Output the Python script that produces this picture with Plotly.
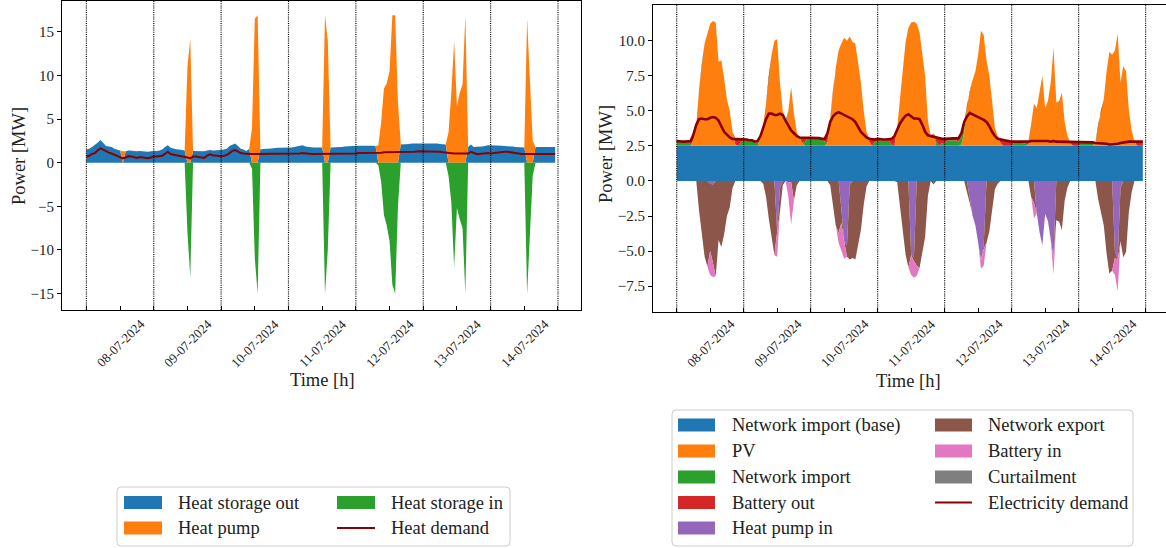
import pandas as pd
import plotly.graph_objects as go

W, H = 1166, 548
START = "2024-07-08 00:00"
N_DAYS = 7
DATE_LABELS = ["08-07-2024", "09-07-2024", "10-07-2024", "11-07-2024",
               "12-07-2024", "13-07-2024", "14-07-2024"]

# ---------------- Heat balance (left) : per day, hourly values [MW] ----------------
heat_storage_out = [
    [1.5, 1.6, 1.8, 2.0, 2.3, 2.6, 2.3, 1.9, 1.85, 1.8, 1.6, 1.5, 1.4, 0.0, 1.3, 1.4, 1.35, 1.3, 1.3, 1.35, 1.3, 1.3, 1.25, 1.3],
    [1.3, 1.35, 1.4, 1.5, 1.8, 2.0, 1.7, 1.6, 1.55, 1.5, 1.45, 1.4, 0.0, 0.0, 1.35, 1.35, 1.3, 1.3, 1.3, 1.4, 1.45, 1.4, 1.4, 1.4],
    [1.45, 1.5, 1.6, 1.9, 2.1, 2.2, 1.9, 1.6, 1.5, 1.35, 1.6, 0.0, 0.0, 0.0, 1.55, 1.6, 1.6, 1.6, 1.65, 1.65, 1.7, 1.7, 1.7, 1.75],
    [1.75, 1.75, 1.8, 1.85, 1.95, 2.0, 1.85, 1.8, 1.75, 1.75, 1.75, 1.75, 1.75, 0.0, 0.0, 1.75, 1.75, 1.8, 1.8, 1.8, 1.85, 1.85, 1.9, 1.9],
    [1.95, 1.95, 1.95, 1.95, 2.0, 2.0, 1.95, 1.9, 0.0, 0.0, 0.0, 0.0, 0.0, 0.0, 0.0, 0.0, 2.1, 2.1, 2.15, 2.15, 2.2, 2.2, 2.2, 2.2],
    [2.2, 2.25, 2.25, 2.2, 2.2, 2.2, 2.15, 2.1, 2.1, 0.0, 0.0, 0.0, 0.0, 0.0, 0.0, 0.0, 1.8, 2.1, 1.8, 1.8, 1.8, 1.85, 1.9, 2.0],
    [2.0, 2.0, 2.0, 1.95, 1.95, 1.9, 1.9, 1.85, 1.85, 1.8, 1.8, 1.75, 1.75, 0.0, 0.0, 0.0, 1.8, 1.8, 1.8, 1.8, 1.8, 1.8, 1.8, 1.8],
]
heat_pump = [  # {hour: value}, other hours 0
    {13: 1.3},
    {12: 11.0, 13: 14.2},
    {11: 4.0, 12: 16.5, 13: 16.9},
    {13: 16.9, 14: 14.0},
    {8: 2.0, 9: 4.6, 10: 8.5, 11: 9.1, 12: 10.5, 13: 16.9, 14: 16.9, 15: 7.0},
    {9: 3.5, 10: 8.0, 11: 14.0, 12: 6.5, 13: 8.0, 14: 9.0, 15: 16.9},
    {13: 16.5, 14: 9.0, 15: 2.5},
]
heat_storage_in = [
    {},
    {12: -8.0, 13: -13.1},
    {11: -0.7, 12: -11.0, 13: -15.0},
    {13: -15.1, 14: -10.0},
    {8: -0.3, 9: -2.2, 10: -6.0, 11: -7.2, 12: -9.0, 13: -14.0, 14: -15.0, 15: -5.0},
    {9: -1.5, 10: -4.5, 11: -12.0, 12: -5.2, 13: -6.5, 14: -7.5, 15: -15.0},
    {13: -15.1, 14: -7.5, 15: -1.5},
]
heat_demand = [
    [0.7, 0.8, 1.0, 1.1, 1.4, 1.65, 1.5, 1.3, 1.15, 1.05, 0.9, 0.75, 0.65, 0.5, 0.6, 0.75, 0.7, 0.6, 0.55, 0.65, 0.6, 0.55, 0.5, 0.6],
    [0.7, 0.7, 0.75, 0.8, 1.0, 1.25, 1.0, 0.9, 0.85, 0.8, 0.75, 0.7, 0.6, 0.5, 0.7, 0.7, 0.65, 0.6, 0.55, 0.8, 0.95, 0.85, 0.8, 0.8],
    [0.75, 0.8, 0.9, 1.1, 1.35, 1.45, 1.25, 1.1, 1.05, 1.0, 1.0, 1.0, 1.0, 1.0, 1.0, 1.0, 1.0, 1.0, 1.0, 1.0, 1.0, 1.0, 1.0, 1.0],
    [1.0, 1.0, 1.0, 1.0, 1.05, 1.1, 1.05, 1.0, 1.0, 1.0, 1.0, 1.0, 1.0, 1.0, 1.0, 1.0, 1.0, 1.0, 1.0, 1.0, 1.0, 1.0, 1.0, 1.0],
    [1.05, 1.1, 1.1, 1.1, 1.15, 1.15, 1.15, 1.15, 1.15, 1.15, 1.2, 1.2, 1.25, 1.25, 1.25, 1.25, 1.25, 1.25, 1.25, 1.25, 1.25, 1.25, 1.3, 1.3],
    [1.25, 1.25, 1.25, 1.25, 1.25, 1.25, 1.25, 1.2, 1.15, 1.1, 1.05, 1.05, 1.05, 1.05, 1.0, 1.0, 1.05, 1.25, 1.1, 1.0, 1.0, 1.05, 1.05, 1.1],
    [1.05, 1.1, 1.15, 1.2, 1.25, 1.25, 1.25, 1.2, 1.1, 1.05, 1.0, 1.0, 1.0, 1.0, 1.0, 1.0, 1.0, 1.0, 1.0, 1.0, 1.0, 1.0, 1.0, 1.0],
]

# ---------------- Electricity balance (right) ----------------
network_import_base = 2.5   # constant base import [MW]
pv = [
    {6: 0.4, 7: 1.5, 8: 4.0, 9: 5.8, 10: 7.3, 11: 8.0, 12: 8.7, 13: 8.9, 14: 8.8, 15: 6.0, 16: 6.1, 17: 4.8, 18: 3.3, 19: 2.5, 20: 1.0, 21: 0.1},
    {6: 0.6, 7: 1.5, 8: 3.0, 9: 5.0, 10: 6.5, 11: 7.5, 12: 7.6, 13: 4.5, 14: 2.5, 15: 1.5, 16: 2.5, 17: 4.2, 18: 2.3, 19: 1.0, 20: 0.6, 21: 0.2},
    {6: 0.2, 7: 2.0, 8: 4.0, 9: 5.5, 10: 6.8, 11: 7.3, 12: 7.7, 13: 7.5, 14: 7.8, 15: 7.4, 16: 7.3, 17: 5.9, 18: 4.5, 19: 2.5, 20: 1.0, 21: 0.3},
    {7: 1.3, 8: 3.3, 9: 5.4, 10: 7.4, 11: 8.4, 12: 8.8, 13: 8.85, 14: 8.7, 15: 8.1, 16: 6.7, 17: 5.0, 18: 1.8, 19: 0.5, 20: 0.9},
    {6: 0.1, 7: 1.0, 8: 2.9, 9: 3.9, 10: 4.7, 11: 5.3, 12: 6.5, 13: 8.2, 14: 7.9, 15: 6.1, 16: 5.0, 17: 3.1, 18: 1.3, 19: 0.7, 20: 0.2},
    {6: 0.1, 7: 1.5, 8: 3.0, 9: 2.7, 10: 4.0, 11: 5.0, 12: 2.7, 13: 3.2, 14: 4.5, 15: 7.0, 16: 3.1, 17: 3.2, 18: 3.8, 19: 1.7, 20: 0.7, 21: 0.2},
    {6: 0.2, 7: 1.5, 8: 2.5, 9: 3.3, 10: 5.3, 11: 6.7, 12: 6.5, 13: 6.8, 14: 8.0, 15: 4.5, 16: 5.7, 17: 5.3, 18: 2.5, 19: 1.1, 20: 0.3},
]
network_import = [
    {0: 0.3, 1: 0.3, 2: 0.3, 3: 0.3, 4: 0.25, 5: 0.1, 23: 0.25},
    {0: 0.4, 1: 0.45, 2: 0.4, 3: 0.4, 4: 0.3, 5: 0.2, 15: 0.3, 22: 0.3, 23: 0.55},
    {0: 0.55, 1: 0.6, 2: 0.6, 3: 0.55, 4: 0.45, 5: 0.3, 23: 0.3},
    {0: 0.3, 1: 0.4, 2: 0.4, 3: 0.4, 4: 0.35, 5: 0.1, 21: 0.3, 23: 0.2},
    {0: 0.2, 1: 0.4, 2: 0.4, 3: 0.4, 4: 0.4, 5: 0.3, 6: 0.6, 7: 0.7},
    {1: 0.25, 2: 0.25, 3: 0.25, 4: 0.2, 5: 0.15},
    {1: 0.2, 2: 0.25, 3: 0.2, 4: 0.2, 5: 0.15},
]
battery_out = [
    {0: 0.05, 4: 0.05, 5: 0.25, 6: 0.4, 21: 0.4, 22: 0.45, 23: 0.2},
    {0: 0.05, 5: 0.15, 6: 0.1, 21: 0.4, 22: 0.3, 23: 0.05},
    {0: 0.05, 4: 0.05, 5: 0.2, 6: 0.7, 21: 0.2, 22: 0.45, 23: 0.15},
    {0: 0.2, 1: 0.05, 2: 0.05, 3: 0.05, 4: 0.1, 5: 0.4, 6: 0.7, 19: 0.2, 21: 0.25, 22: 0.55, 23: 0.3},
    {0: 0.3, 1: 0.1, 2: 0.1, 3: 0.1, 4: 0.1, 5: 0.25, 6: 0.2, 20: 0.25, 21: 0.4, 22: 0.35, 23: 0.35},
    {0: 0.3, 1: 0.05, 2: 0.05, 3: 0.05, 4: 0.05, 5: 0.1, 6: 0.2, 21: 0.05, 22: 0.25, 23: 0.25},
    {0: 0.3, 1: 0.1, 2: 0.05, 3: 0.05, 4: 0.05, 5: 0.1, 21: 0.3, 22: 0.3, 23: 0.3},
]
heat_pump_in = [
    {12: -0.2, 13: -0.25},
    {12: -3.6, 13: -0.5},
    {11: -2.0, 12: -4.3, 13: -4.6, 14: -0.3},
    {12: -5.3, 13: -5.4},
    {9: -1.25, 10: -2.45, 11: -3.15, 12: -4.4, 13: -5.65, 14: -4.55},
    {9: -2.3, 10: -3.65, 11: -4.6, 12: -2.35, 13: -2.85, 14: -4.2, 15: -5.45},
    {13: -5.0, 14: -5.6, 15: -0.5},
]
network_export = [
    {8: -2.1, 9: -3.85, 10: -5.4, 11: -6.1, 12: -4.8, 13: -5.6, 14: -6.8, 15: -4.2, 16: -4.7, 17: -3.8, 18: -2.5, 19: -1.9, 20: -0.5},
    {7: -0.2, 8: -1.1, 9: -2.7, 10: -4.2, 11: -5.3, 13: -1.7, 14: -0.3, 16: -0.1, 17: -0.1, 18: -1.4, 19: -0.3},
    {7: -0.3, 8: -1.9, 9: -3.2, 10: -3.7, 11: -1.0, 13: -0.8, 14: -5.3, 15: -5.5, 16: -5.6, 17: -4.6, 18: -3.5, 19: -1.7, 20: -0.4},
    {7: -0.1, 8: -1.7, 9: -3.5, 10: -5.25, 11: -6.15, 13: -0.3, 14: -6.05, 15: -6.2, 16: -5.2, 17: -4.0, 18: -1.05, 20: -0.25},
    {8: -0.8, 9: -0.3, 14: -0.3, 15: -4.4, 16: -3.6, 17: -2.1, 18: -0.6, 19: -0.2},
    {7: -1.15, 8: -1.55, 16: -2.8, 17: -2.9, 18: -3.5, 19: -1.4, 20: -0.45},
    {7: -1.3, 8: -2.35, 9: -3.15, 10: -5.15, 11: -6.6, 12: -6.4, 13: -0.5, 15: -3.8, 16: -5.45, 17: -5.05, 18: -2.2, 19: -0.8},
]
battery_in = [
    {12: -1.7, 13: -1.0},
    {12: -1.8, 16: -1.0, 17: -3.0},
    {10: -0.7, 11: -2.0, 12: -1.25},
    {12: -1.4, 13: -1.2, 14: -0.7},
    {13: -0.6, 14: -1.2},
    {8: -1.1, 15: -1.2},
    {13: -1.2, 14: -2.25},
]
curtailment = [{}, {}, {}, {}, {}, {}, {}]
elec_demand = [
    [2.85, 2.8, 2.8, 2.8, 2.8, 2.85, 3.3, 4.0, 4.4, 4.45, 4.4, 4.4, 4.5, 4.55, 4.5, 4.3, 3.9, 3.5, 3.3, 3.1, 3.0, 3.0, 2.95, 2.95],
    [2.95, 2.95, 2.9, 2.9, 2.8, 2.85, 3.2, 3.8, 4.4, 4.8, 4.8, 4.7, 4.7, 4.8, 4.7, 4.3, 3.9, 3.6, 3.4, 3.2, 3.1, 3.1, 3.1, 3.1],
    [3.1, 3.1, 3.1, 3.05, 3.0, 3.0, 3.4, 4.2, 4.6, 4.8, 4.9, 4.8, 4.65, 4.6, 4.5, 4.4, 4.2, 3.8, 3.5, 3.3, 3.1, 3.0, 2.95, 2.95],
    [3.0, 2.95, 2.95, 2.95, 2.95, 3.0, 3.2, 3.7, 4.1, 4.4, 4.65, 4.75, 4.6, 4.45, 4.45, 4.4, 4.0, 3.5, 3.25, 3.2, 3.15, 3.05, 3.05, 3.0],
    [3.0, 3.0, 3.0, 3.0, 3.0, 3.05, 3.4, 4.2, 4.6, 4.85, 4.75, 4.65, 4.6, 4.45, 4.35, 4.2, 3.9, 3.5, 3.2, 3.0, 2.95, 2.9, 2.85, 2.85],
    [2.8, 2.8, 2.8, 2.8, 2.75, 2.75, 2.8, 2.85, 2.85, 2.9, 2.85, 2.9, 2.85, 2.85, 2.8, 2.85, 2.8, 2.8, 2.8, 2.8, 2.75, 2.75, 2.75, 2.75],
    [2.8, 2.8, 2.8, 2.75, 2.75, 2.75, 2.7, 2.7, 2.65, 2.65, 2.65, 2.6, 2.6, 2.6, 2.65, 2.7, 2.75, 2.75, 2.8, 2.8, 2.8, 2.8, 2.8, 2.8],
]


def expand(days):
    out = []
    for d in days:
        if isinstance(d, dict):
            out.extend(float(d.get(h, 0.0)) for h in range(24))
        else:
            vals = list(d)[:24]
            out.extend(vals + [vals[-1]] * (24 - len(vals)))
    return out


t0 = pd.Timestamp(START)
N = 24 * N_DAYS
times = pd.date_range(t0, periods=N, freq="h")


def at(hours):
    return (t0 + pd.Timedelta(hours=hours)).strftime("%Y-%m-%d %H:%M:%S")


C = dict(blue="#1f77b4", orange="#ff7f0e", green="#2ca02c", red="#d62728",
         purple="#9467bd", brown="#8c564b", pink="#e377c2", gray="#7f7f7f",
         demand="#8b0000")
FONT = "Liberation Serif"
TXT = "#222222"

fig = go.Figure()


def area(y, color, name, group, xa, ya):
    fig.add_trace(go.Scatter(x=times, y=y, name=name, stackgroup=group, mode="lines",
                             line=dict(width=0, color=color), fillcolor=color,
                             xaxis=xa, yaxis=ya, showlegend=False))


# left: heat
area(expand(heat_storage_out), C["blue"], "Heat storage out", "hpos", "x", "y")
area(expand(heat_pump), C["orange"], "Heat pump", "hpos", "x", "y")
area(expand(heat_storage_in), C["green"], "Heat storage in", "hneg", "x", "y")
fig.add_trace(go.Scatter(x=times, y=expand(heat_demand), name="Heat demand", mode="lines",
                         line=dict(color=C["demand"], width=2), xaxis="x", yaxis="y", showlegend=False))

# right: electricity
area([network_import_base] * N, C["blue"], "Network import (base)", "epos", "x2", "y2")
area(expand(pv), C["orange"], "PV", "epos", "x2", "y2")
area(expand(network_import), C["green"], "Network import", "epos", "x2", "y2")
area(expand(battery_out), C["red"], "Battery out", "epos", "x2", "y2")
area(expand(heat_pump_in), C["purple"], "Heat pump in", "eneg", "x2", "y2")
area(expand(network_export), C["brown"], "Network export", "eneg", "x2", "y2")
area(expand(battery_in), C["pink"], "Battery in", "eneg", "x2", "y2")
area(expand(curtailment), C["gray"], "Curtailment", "eneg", "x2", "y2")
fig.add_trace(go.Scatter(x=times, y=expand(elec_demand), name="Electricity demand", mode="lines",
                         line=dict(color=C["demand"], width=2.6), xaxis="x2", yaxis="y2", showlegend=False))


def px_x(px):
    return px / W


def px_y(py):
    return 1 - py / H


midnights = [at(24 * d) for d in range(N_DAYS + 1)]
noons = [at(24 * d + 12) for d in range(N_DAYS)]

axis_common = dict(showline=True, mirror=True, linecolor="black", linewidth=1,
                   showgrid=False, zeroline=False)
xcommon = dict(axis_common, type="date", tickvals=midnights + noons, ticks="inside",
               ticklen=4, tickcolor="black", showticklabels=False)
ycommon = dict(axis_common, ticks="outside", ticklen=4, tickcolor="black",
               tickfont=dict(family=FONT, size=15, color=TXT))

fig.update_layout(
    width=W, height=H, margin=dict(l=0, r=0, t=0, b=0),
    paper_bgcolor="white", plot_bgcolor="white", showlegend=False,
    font=dict(family=FONT, color=TXT),
    xaxis=dict(xcommon, domain=[px_x(62), px_x(581)], range=[at(-8.69), at(176.2)], anchor="y"),
    yaxis=dict(ycommon, domain=[px_y(310), 0.999], range=[-16.9, 18.6],
               tickvals=[-15, -10, -5, 0, 5, 10, 15], anchor="x"),
    xaxis2=dict(xcommon, domain=[px_x(653), 1.0], range=[at(-8.49), at(175.3)], anchor="y2"),
    yaxis2=dict(ycommon, domain=[px_y(312), px_y(5)], range=[-9.34, 12.54],
                tickvals=[-7.5, -5.0, -2.5, 0.0, 2.5, 5.0, 7.5, 10.0], tickformat=".1f", anchor="x2"),
)

shapes = []
annotations = []
for xa, ya in (("x", "y"), ("x2", "y2")):
    for m in midnights:
        shapes.append(dict(type="line", xref=xa, yref=f"{ya} domain", x0=m, x1=m, y0=0, y1=1,
                           line=dict(color="black", width=1.2, dash="1px,1.2px"), layer="above"))
    ylab = px_y(343)
    for lab, nx in zip(DATE_LABELS, noons):
        annotations.append(dict(text=lab, xref=xa, yref="paper", x=nx, y=ylab, showarrow=False,
                                textangle=-45, xanchor="center", yanchor="middle",
                                font=dict(family=FONT, size=13, color=TXT)))

# axis titles
for txt, x, y, ang in (("Power [MW]", 19, 156, -90), ("Power [MW]", 606, 154, -90),
                       ("Time [h]", 322, 380, 0), ("Time [h]", 908, 381, 0)):
    annotations.append(dict(text=txt, xref="paper", yref="paper", x=px_x(x), y=px_y(y),
                            showarrow=False, textangle=ang, xanchor="center", yanchor="middle",
                            font=dict(family=FONT, size=18.5, color=TXT)))


def rounded_box(x0, y0, x1, y1, r=4):
    X, Y = px_x, px_y
    path = (f"M {X(x0 + r)},{Y(y0)} L {X(x1 - r)},{Y(y0)} Q {X(x1)},{Y(y0)} {X(x1)},{Y(y0 + r)} "
            f"L {X(x1)},{Y(y1 - r)} Q {X(x1)},{Y(y1)} {X(x1 - r)},{Y(y1)} "
            f"L {X(x0 + r)},{Y(y1)} Q {X(x0)},{Y(y1)} {X(x0)},{Y(y1 - r)} "
            f"L {X(x0)},{Y(y0 + r)} Q {X(x0)},{Y(y0)} {X(x0 + r)},{Y(y0)} Z")
    return dict(type="path", xref="paper", yref="paper", path=path,
                line=dict(color="#cccccc", width=1), fillcolor="rgba(255,255,255,0.8)", layer="above")


def legend_entry(kind, color, label, sx0, sx1, cy, tx):
    if kind == "rect":
        shapes.append(dict(type="rect", xref="paper", yref="paper", x0=px_x(sx0), x1=px_x(sx1),
                           y0=px_y(cy + 6.5), y1=px_y(cy - 6.5), fillcolor=color,
                           line=dict(width=0), layer="above"))
    else:
        shapes.append(dict(type="line", xref="paper", yref="paper", x0=px_x(sx0), x1=px_x(sx1),
                           y0=px_y(cy), y1=px_y(cy), line=dict(color=color, width=2.2), layer="above"))
    annotations.append(dict(text=label, xref="paper", yref="paper", x=px_x(tx), y=px_y(cy),
                            showarrow=False, xanchor="left", yanchor="middle",
                            font=dict(family=FONT, size=18.5, color=TXT)))


# left legend
shapes.append(rounded_box(117, 487, 510, 546))
legend_entry("rect", C["blue"], "Heat storage out", 124, 162, 502.5, 176)
legend_entry("rect", C["orange"], "Heat pump", 124, 162, 528, 176)
legend_entry("rect", C["green"], "Heat storage in", 337, 375, 502.5, 389)
legend_entry("line", C["demand"], "Heat demand", 337, 375, 528, 389)

# right legend
shapes.append(rounded_box(672, 410, 1133, 546))
rows = [425, 451, 477, 502.5, 528]
for (kind, col, lab), cy in zip([("rect", C["blue"], "Network import (base)"),
                                  ("rect", C["orange"], "PV"),
                                  ("rect", C["green"], "Network import"),
                                  ("rect", C["red"], "Battery out"),
                                  ("rect", C["purple"], "Heat pump in")], rows):
    legend_entry(kind, col, lab, 678, 715, cy, 730)
for (kind, col, lab), cy in zip([("rect", C["brown"], "Network export"),
                                  ("rect", C["pink"], "Battery in"),
                                  ("rect", C["gray"], "Curtailment"),
                                  ("line", C["demand"], "Electricity demand")], rows):
    legend_entry(kind, col, lab, 935, 972, cy, 986)

fig.update_layout(shapes=shapes, annotations=annotations)
fig.write_html("out.html", config={"displayModeBar": False},
               post_script="document.body.style.margin='0';document.body.style.overflow='hidden';")
